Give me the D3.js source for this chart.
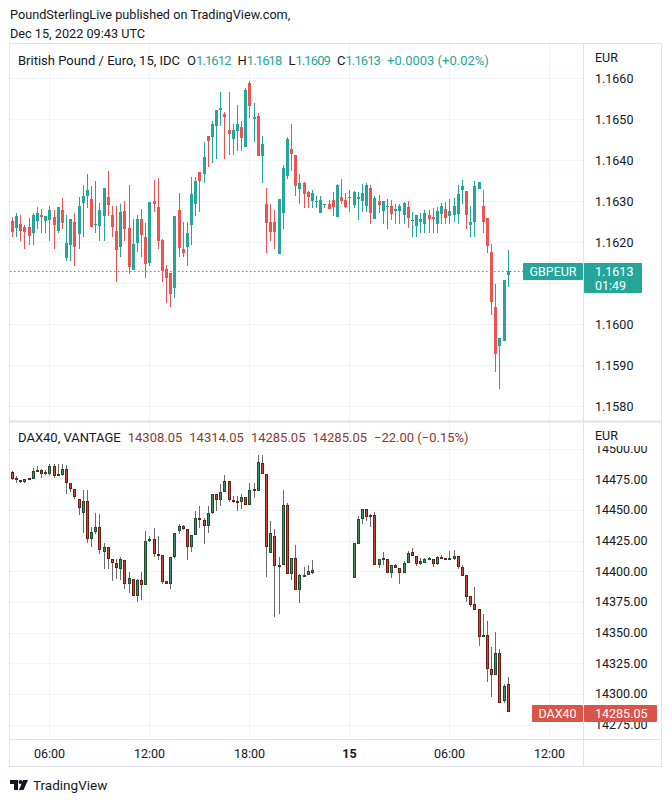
<!DOCTYPE html>
<html><head><meta charset="utf-8">
<script src="https://cdn.jsdelivr.net/npm/d3@7"></script>
<style>html,body{margin:0;padding:0;background:#fff;}svg{display:block;font-family:Roboto,"Liberation Sans",sans-serif;}</style>
</head><body><svg id="c" width="672" height="802"></svg>
<script>
// ---------- DATA ----------
const startTime = new Date(Date.UTC(2022, 11, 14, 3, 45));
const barMinutes = 15;
const gbpO = [1.16250,1.16234,1.16243,1.16236,1.16236,1.16222,1.16250,1.16265,1.16250,1.16253,1.16260,1.16227,1.16277,1.16161,1.16193,1.16248,1.16220,1.16294,1.16311,1.16304,1.16241,1.16239,1.16263,1.16309,1.16267,1.16227,1.16188,1.16275,1.16233,1.16131,1.16198,1.16255,1.16212,1.16149,1.16299,1.16285,1.16205,1.16135,1.16124,1.16088,1.16277,1.16182,1.16188,1.16241,1.16293,1.16370,1.16366,1.16458,1.16456,1.16483,1.16522,1.16511,1.16472,1.16451,1.16471,1.16480,1.16432,1.16587,1.16500,1.16507,1.16410,1.16292,1.16249,1.16248,1.16171,1.16271,1.16361,1.16426,1.16411,1.16329,1.16343,1.16321,1.16300,1.16300,1.16271,1.16290,1.16292,1.16302,1.16261,1.16309,1.16302,1.16307,1.16290,1.16305,1.16300,1.16288,1.16331,1.16256,1.16299,1.16276,1.16286,1.16289,1.16276,1.16276,1.16266,1.16285,1.16251,1.16239,1.16249,1.16244,1.16266,1.16261,1.16244,1.16268,1.16280,1.16263,1.16266,1.16268,1.16327,1.16324,1.16241,1.16249,1.16329,1.16288,1.16259,1.16176,1.16041,1.15946,1.15959,1.1612];
const gbpH = [1.16261,1.16270,1.16267,1.16241,1.16258,1.16270,1.16285,1.16280,1.16263,1.16287,1.16277,1.16285,1.16307,1.16265,1.16255,1.16270,1.16309,1.16338,1.16367,1.16336,1.16348,1.16294,1.16331,1.16372,1.16289,1.16287,1.16292,1.16299,1.16338,1.16255,1.16267,1.16280,1.16246,1.16297,1.16350,1.16355,1.16207,1.16144,1.16124,1.16263,1.16319,1.16248,1.16248,1.16358,1.16358,1.16370,1.16443,1.16458,1.16494,1.16521,1.16565,1.16516,1.16565,1.16489,1.16533,1.16494,1.16575,1.16592,1.16538,1.16514,1.16458,1.16331,1.16292,1.16277,1.16304,1.16389,1.16455,1.16487,1.16411,1.16365,1.16346,1.16324,1.16328,1.16311,1.16311,1.16292,1.16302,1.16321,1.16341,1.16353,1.16319,1.16326,1.16324,1.16321,1.16341,1.16343,1.16338,1.16311,1.16314,1.16299,1.16304,1.16302,1.16292,1.16292,1.16297,1.16299,1.16272,1.16266,1.16270,1.16277,1.16277,1.16282,1.16285,1.16294,1.16297,1.16304,1.16307,1.16338,1.16350,1.16324,1.16288,1.16348,1.16346,1.16328,1.16259,1.16195,1.16098,1.15967,1.16107,1.1618];
const gbpL = [1.16212,1.16212,1.16202,1.16183,1.16193,1.16193,1.16231,1.16222,1.16222,1.16202,1.16183,1.16222,1.16232,1.16154,1.16154,1.16141,1.16183,1.16212,1.16283,1.16237,1.16222,1.16202,1.16202,1.16263,1.16212,1.16102,1.16163,1.16202,1.16122,1.16131,1.16176,1.16163,1.16112,1.16141,1.16273,1.16183,1.16102,1.16051,1.16041,1.16063,1.16163,1.16163,1.16141,1.16193,1.16263,1.16273,1.16344,1.16383,1.16393,1.16402,1.16483,1.16402,1.16412,1.16412,1.16422,1.16422,1.16432,1.16502,1.16444,1.16410,1.16344,1.16173,1.16202,1.16183,1.16171,1.16232,1.16354,1.16373,1.16312,1.16293,1.16283,1.16283,1.16283,1.16283,1.16271,1.16283,1.16280,1.16263,1.16261,1.16293,1.16283,1.16273,1.16283,1.16254,1.16273,1.16273,1.16244,1.16256,1.16271,1.16244,1.16232,1.16254,1.16244,1.16244,1.16244,1.16234,1.16212,1.16212,1.16222,1.16222,1.16222,1.16222,1.16222,1.16244,1.16244,1.16244,1.16249,1.16244,1.16293,1.16232,1.16212,1.16212,1.16329,1.16222,1.16173,1.16022,1.15883,1.15841,1.15959,1.1609];
const gbpC = [1.16224,1.16263,1.16227,1.16224,1.16215,1.16267,1.16270,1.16260,1.16263,1.16277,1.16241,1.16285,1.16246,1.16197,1.16255,1.16188,1.16287,1.16311,1.16326,1.16237,1.16243,1.16277,1.16331,1.16290,1.16237,1.16180,1.16272,1.16232,1.16139,1.16195,1.16255,1.16217,1.16146,1.16297,1.16293,1.16202,1.16129,1.16112,1.16073,1.16263,1.16185,1.16173,1.16222,1.16316,1.16348,1.16348,1.16407,1.16446,1.16487,1.16521,1.16528,1.16505,1.16463,1.16472,1.16489,1.16454,1.16570,1.16532,1.16504,1.16410,1.16438,1.16246,1.16224,1.16224,1.16304,1.16380,1.16450,1.16415,1.16337,1.16343,1.16317,1.16310,1.16319,1.16301,1.16302,1.16292,1.16280,1.16285,1.16338,1.16300,1.16285,1.16309,1.16321,1.16309,1.16319,1.16338,1.16271,1.16307,1.16290,1.16299,1.16287,1.16268,1.16280,1.16287,1.16294,1.16259,1.16253,1.16265,1.16256,1.16270,1.16256,1.16256,1.16275,1.16287,1.16259,1.16275,1.16289,1.16316,1.16336,1.16266,1.16249,1.16336,1.16346,1.16249,1.16190,1.16054,1.15927,1.15967,1.16107,1.1613];
const _ = null;
const daxO = [14481.1,14475.9,14474.3,14472.7,14475.9,14475.1,14481.9,14482.4,14479.2,14479.2,14485.9,14478.3,14478.3,14483.5,14472.1,14467.0,14458.8,14447.4,14457.5,14426.0,14432.0,14436.3,14415.7,14419.8,14410.0,14406.8,14401.9,14409.2,14389.7,14393.8,14379.7,14393.0,14388.9,14424.9,14426.6,14414.1,14413.0,14391.6,14389.7,14411.4,14432.5,14436.9,14434.4,14419.5,14429.5,14443.4,14441.7,14436.9,14447.4,14462.9,14458.0,14464.5,14473.5,14458.3,14457.5,14456.1,14460.5,14453.9,14467.0,14465.3,14488.4,14479.2,14414.9,14428.7,14404.3,14405.2,14453.9,14397.6,14410.8,14384.5,14396.2,14397.0,14401.1,_,_,_,_,_,_,_,_,_,14394.6,14422.5,14442.6,14450.7,14443.9,14445.8,14405.2,14410.0,14410.0,14398.6,14405.2,14402.7,14398.6,14406.8,14416.0,14412.5,14406.0,14406.8,14410.0,14410.0,14406.0,14411.9,14410.6,14409.2,14410.0,14412.7,14403.0,14396.5,14379.4,14372.9,14368.8,14346.3,14348.2,14320.6,14315.7,14333.6,14294.0,14308.05];
const daxH = [14481.9,14477.5,14474.3,14475.1,14475.9,14484.3,14485.9,14483.5,14482.7,14487.6,14487.6,14487.6,14487.6,14486.8,14472.1,14467.0,14458.8,14466.1,14466.1,14435.8,14447.4,14446.6,14423.0,14419.8,14410.0,14410.0,14411.4,14409.2,14399.2,14393.8,14393.8,14399.2,14433.1,14429.0,14435.2,14429.0,14413.0,14391.6,14411.9,14431.2,14438.5,14437.7,14434.4,14429.5,14448.8,14453.4,14443.4,14453.1,14462.9,14462.9,14471.0,14478.6,14473.5,14461.5,14461.5,14462.9,14460.5,14472.1,14472.1,14494.6,14494.6,14479.2,14441.2,14434.4,14411.4,14466.1,14455.3,14410.8,14421.7,14397.8,14403.8,14405.2,14409.2,_,_,_,_,_,_,_,_,_,14423.0,14445.3,14450.7,14450.7,14446.6,14448.5,14410.0,14416.0,14410.0,14405.2,14406.0,14402.7,14407.9,14416.8,14418.7,14412.5,14410.8,14410.8,14411.4,14410.0,14412.5,14413.3,14410.6,14416.8,14417.6,14412.7,14405.4,14396.5,14379.4,14387.0,14368.8,14365.3,14359.1,14338.2,14350.4,14336.3,14308.4,14314.05];
const daxL = [14474.3,14471.8,14471.8,14471.8,14474.6,14475.1,14481.1,14475.9,14478.3,14478.3,14475.9,14478.3,14477.8,14462.9,14464.5,14458.8,14445.8,14431.2,14423.0,14420.1,14430.4,14414.1,14401.9,14401.9,14391.9,14393.8,14392.4,14385.6,14382.1,14379.7,14374.8,14376.1,14388.9,14423.9,14411.9,14408.7,14389.2,14389.7,14385.6,14410.8,14430.4,14433.6,14408.7,14416.0,14429.5,14435.2,14422.2,14431.2,14446.6,14448.8,14453.1,14464.3,14456.1,14455.3,14449.3,14450.7,14453.9,14453.9,14459.6,14465.3,14479.2,14395.1,14414.9,14362.6,14365.3,14405.2,14397.6,14392.4,14384.3,14374.2,14396.2,14396.5,14397.8,_,_,_,_,_,_,_,_,_,14394.6,14422.5,14438.5,14440.7,14435.8,14405.2,14402.4,14405.2,14398.6,14394.3,14402.4,14389.7,14398.4,14406.8,14412.5,14404.1,14405.4,14406.5,14408.7,14403.3,14405.2,14410.0,14409.2,14409.2,14409.2,14401.9,14395.7,14374.8,14370.7,14368.6,14339.0,14346.3,14309.7,14297.5,14315.7,14292.6,14292.6,14285.05];
const daxC = [14475.1,14474.3,14472.7,14475.1,14474.6,14481.9,14482.7,14479.2,14481.1,14485.9,14477.5,14478.9,14483.5,14471.8,14466.7,14460.5,14451.5,14457.5,14426.0,14432.0,14436.3,14417.4,14419.8,14410.0,14406.8,14402.7,14410.0,14389.7,14394.6,14379.7,14393.0,14388.9,14424.9,14426.6,14414.1,14413.0,14391.3,14389.7,14411.4,14431.2,14436.9,14434.4,14419.5,14429.5,14443.4,14441.7,14436.9,14447.4,14462.9,14458.0,14464.5,14473.5,14458.0,14456.9,14456.1,14460.5,14453.9,14466.1,14465.6,14488.9,14479.2,14419.5,14431.2,14404.3,14405.2,14453.9,14397.6,14410.8,14384.5,14397.0,14397.0,14400.3,14398.9,_,_,_,_,_,_,_,_,_,14423.0,14442.6,14450.7,14443.9,14445.8,14405.2,14410.0,14410.6,14398.6,14405.2,14402.7,14398.6,14406.8,14414.9,14412.5,14406.0,14407.9,14410.0,14410.6,14406.0,14411.9,14410.0,14409.2,14410.6,14412.7,14403.0,14396.2,14378.9,14372.6,14368.6,14346.3,14348.2,14320.6,14315.1,14333.6,14292.6,14306.2,14285.05];
const gbpLegendChange = "+0.0003 (+0.02%)";
const daxLegendChange = "\u221222.00 (\u22120.15%)";
const gbpCountdown = "01:49";
const gbpTicks = [1.1580,1.1590,1.1600,1.1610,1.1620,1.1630,1.1640,1.1650,1.1660];
const gbpTickLabels = ["1.1580","1.1590","1.1600","","1.1620","1.1630","1.1640","1.1650","1.1660"];
const daxTicks = [14275,14300,14325,14350,14375,14400,14425,14450,14475,14500];
const timeTicks = [Date.UTC(2022,11,14,6),Date.UTC(2022,11,14,12),Date.UTC(2022,11,14,18),Date.UTC(2022,11,15,0),Date.UTC(2022,11,15,6),Date.UTC(2022,11,15,12)];
const timeLabels = ["06:00","12:00","18:00","15","06:00","12:00"];

// ---------- LAYOUT ----------
const L = 9, R = 662, AX = 583.5, T = 43, SEP = 421.5, TB = 739.5, B = 767;
const col = {text:"#131722", grid:"#f0f3fa", border:"#e0e3eb", up:"#26a69a", dn:"#ef5350",
  dUp:"#3d8d5d", dUpB:"#1e4d31", dDn:"#cf4535", dDnB:"#6e1d14", wick:"#6b6b6b", daxTxt:"#8b3a2f", daxLbl:"#d9544a"};

const svg = d3.select("#c");
const times = gbpO.map((d,i)=> d3.timeMinute.offset(startTime, i*barMinutes));
const x = d3.scaleTime().domain([startTime, times[times.length-1]]).range([12, 507.8]);
const yG = d3.scaleLinear().domain([1.1580,1.1660]).range([406,78]);
const yD = d3.scaleLinear().domain([14275,14500]).range([724.5,448.5]);
const px = v => Math.round(v)+0.5;

// header
svg.append("text").attr("x",10).attr("y",19).attr("font-size",12.7).attr("fill",col.text).text("PoundSterlingLive published on TradingView.com,");
svg.append("text").attr("x",10).attr("y",38).attr("font-size",12.7).attr("fill",col.text).text("Dec 15, 2022 09:43 UTC");

// grids
const g = svg.append("g");
timeTicks.forEach(t=>{ const xx = px(x(new Date(t)));
  g.append("line").attr("x1",xx).attr("x2",xx).attr("y1",T).attr("y2",TB).attr("stroke",col.grid); });
gbpTicks.forEach(v=>{ const yy = px(yG(v));
  g.append("line").attr("x1",L).attr("x2",AX).attr("y1",yy).attr("y2",yy).attr("stroke",col.grid); });
daxTicks.forEach(v=>{ const yy = px(yD(v));
  g.append("line").attr("x1",L).attr("x2",AX).attr("y1",yy).attr("y2",yy).attr("stroke",col.grid); });

// last-price dotted line GBP
svg.append("line").attr("x1",L+1).attr("x2",523).attr("y1",px(yG(gbpC[119]))).attr("y2",px(yG(gbpC[119])))
  .attr("stroke",col.up).attr("stroke-dasharray","1.5,2.5");

// GBP candles
const cg = svg.append("g");
gbpO.forEach((o,i)=>{
  const c = gbpC[i], up = c>=o, cx = px(x(times[i])), clr = up?col.up:col.dn;
  cg.append("line").attr("x1",cx).attr("x2",cx).attr("y1",Math.round(yG(gbpH[i]))).attr("y2",Math.round(yG(gbpL[i]))).attr("stroke",clr);
  const y1 = Math.round(yG(Math.max(o,c))), y2 = Math.round(yG(Math.min(o,c)));
  cg.append("rect").attr("x",cx-1.5).attr("width",3).attr("y",y1).attr("height",Math.max(1,y2-y1)).attr("fill",clr);
});

// DAX candles
const dg = svg.append("g");
daxO.forEach((o,i)=>{
  if(o===null) return;
  const c = daxC[i], up = c>=o, cx = px(x(times[i]));
  dg.append("line").attr("x1",cx).attr("x2",cx).attr("y1",Math.round(yD(daxH[i]))).attr("y2",Math.round(yD(daxL[i]))).attr("stroke",col.wick);
  const y1 = Math.round(yD(Math.max(o,c))), y2 = Math.round(yD(Math.min(o,c)));
  const h = Math.max(2,y2-y1);
  dg.append("rect").attr("x",cx-1).attr("width",2).attr("y",y1+0.5).attr("height",h-1)
    .attr("fill",up?col.dUp:col.dDn).attr("stroke",up?col.dUpB:col.dDnB).attr("stroke-width",1);
});

// frame
const f = svg.append("g").attr("fill","none").attr("stroke",col.border);
f.append("rect").attr("x",L+0.5).attr("y",T+0.5).attr("width",R-L-1).attr("height",B-T-1);
f.append("line").attr("x1",AX).attr("x2",AX).attr("y1",T).attr("y2",B);
f.append("line").attr("x1",L).attr("x2",R).attr("y1",SEP).attr("y2",SEP).attr("stroke-width",2);
f.append("line").attr("x1",L).attr("x2",R).attr("y1",TB).attr("y2",TB);

// price axis labels
const ax = svg.append("g").attr("font-size",12.5).attr("fill",col.text);
gbpTicks.forEach((v,i)=>{ if(gbpTickLabels[i]) ax.append("text").attr("x",595).attr("y",yG(v)+4.5).text(gbpTickLabels[i]); });
daxTicks.forEach(v=>{ ax.append("text").attr("x",595).attr("y",yD(v)+4.5).text(d3.format(".2f")(v)); });
// cover top of 14500 label (as in the reference, the unit label sits over it)
svg.append("rect").attr("x",AX+1).attr("y",SEP+1.5).attr("width",R-AX-2).attr("height",446-SEP-1.5).attr("fill","#fff");
svg.append("text").attr("x",595).attr("y",62).attr("font-size",12.5).attr("fill",col.text).text("EUR");
svg.append("text").attr("x",595).attr("y",440).attr("font-size",12.5).attr("fill",col.text).text("EUR");

// GBP last price label
svg.append("rect").attr("x",523).attr("y",263).attr("width",60).attr("height",17).attr("rx",1).attr("fill",col.up);
svg.append("text").attr("x",553).attr("y",276).attr("text-anchor","middle").attr("font-size",12.5).attr("fill","#fff").text("GBPEUR");
svg.append("rect").attr("x",584).attr("y",263).attr("width",58).attr("height",30).attr("rx",1).attr("fill",col.up);
svg.append("text").attr("x",595).attr("y",276).attr("font-size",12.5).attr("fill","#fff").text(d3.format(".4f")(gbpC[119]));
svg.append("text").attr("x",595).attr("y",290).attr("font-size",12.5).attr("fill","#fff").text(gbpCountdown);

// DAX last price label
svg.append("rect").attr("x",532).attr("y",705).attr("width",51).attr("height",17).attr("rx",1).attr("fill",col.daxLbl);
svg.append("text").attr("x",557.5).attr("y",718).attr("text-anchor","middle").attr("font-size",12.5).attr("fill","#fff").text("DAX40");
svg.append("rect").attr("x",584).attr("y",705).attr("width",73).attr("height",17).attr("rx",1).attr("fill",col.daxLbl);
svg.append("text").attr("x",595).attr("y",718).attr("font-size",12.5).attr("fill","#fff").text(d3.format(".2f")(daxC[119]));

// time labels
timeTicks.forEach((t,i)=>{
  svg.append("text").attr("x",x(new Date(t))).attr("y",757.5).attr("text-anchor","middle").attr("font-size",12.5)
    .attr("font-weight",timeLabels[i]==="15"?"bold":"normal").attr("fill",col.text).text(timeLabels[i]);
});

// legends
const f4 = d3.format(".4f"), f2 = d3.format(".2f");
const lg = svg.append("text").attr("x",18).attr("y",64.5).attr("font-size",13).attr("fill",col.text);
lg.append("tspan").text("British Pound / Euro, 15, IDC");
[["O",gbpO[119]],["H",gbpH[119]],["L",gbpL[119]],["C",gbpC[119]]].forEach(([k,v])=>{
  lg.append("tspan").attr("dx",7).text(k);
  lg.append("tspan").attr("fill",col.up).attr("letter-spacing",-0.9).text(f4(v));
});
lg.append("tspan").attr("dx",7).attr("fill",col.up).text(gbpLegendChange);

const lg2 = svg.append("text").attr("x",18).attr("y",441.5).attr("font-size",13).attr("fill",col.text);
lg2.append("tspan").text("DAX40, VANTAGE");
[daxO[119],daxH[119],daxL[119],daxC[119]].forEach(v=>{ lg2.append("tspan").attr("dx",7).attr("fill",col.daxTxt).text(f2(v)); });
lg2.append("tspan").attr("dx",7).attr("fill",col.daxTxt).text(daxLegendChange);

// TradingView logo
const lo = svg.append("g").attr("fill",col.text);
lo.append("path").attr("d","M10 780h8v10h-4v-6h-4z");
lo.append("circle").attr("cx",20.5).attr("cy",782).attr("r",2);
lo.append("path").attr("d","M23 780h5l-4.5 10h-4.5z");
svg.append("text").attr("x",33).attr("y",790).attr("font-size",13.5).attr("fill",col.text).text("TradingView");
</script></body></html>
